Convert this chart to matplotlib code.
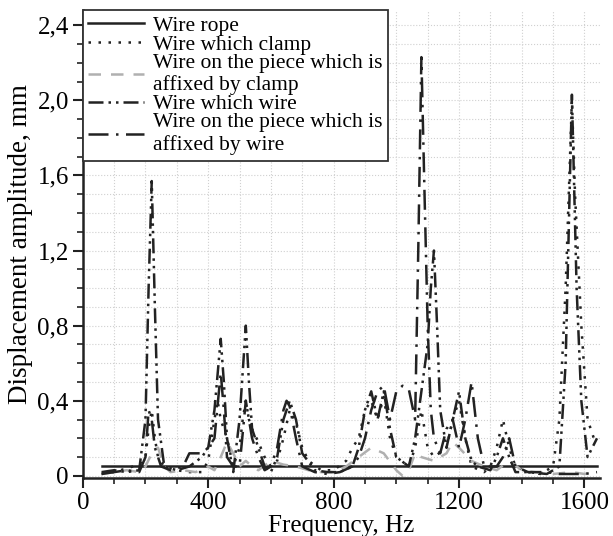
import matplotlib
matplotlib.use("Agg")
import matplotlib.pyplot as plt
from matplotlib.ticker import MultipleLocator, FuncFormatter

plt.rcParams['font.family'] = ['Liberation Serif', 'DejaVu Serif']

# Wire rope
rope_f = [60, 1640]
rope_v = [0.05, 0.05]

# Wire which clamp
wc_f = [60, 100, 140, 180, 200, 210, 220, 230, 240, 260, 300, 340, 380, 400, 420, 430, 440, 460, 480,
        500, 510, 520, 530, 540, 560, 580, 600, 620, 640, 660, 680, 700, 720, 760, 800, 840, 860, 880,
        900, 920, 940, 960, 980, 1000, 1040, 1060, 1080, 1100, 1120, 1160, 1180, 1200, 1220, 1240, 1280,
        1300, 1320, 1340, 1360, 1380, 1420, 1460, 1500, 1520, 1540, 1560, 1570, 1590, 1610, 1630, 1640]
wc_v = [0.01, 0.02, 0.04, 0.06, 0.1, 0.25, 0.35, 0.2, 0.1, 0.05, 0.03, 0.02, 0.02, 0.08, 0.3, 0.4, 0.3, 0.2, 0.05,
        0.15, 0.3, 0.4, 0.3, 0.25, 0.18, 0.1, 0.05, 0.08, 0.2, 0.35, 0.28, 0.15, 0.08, 0.03, 0.03, 0.08, 0.15, 0.2,
        0.35, 0.4, 0.3, 0.42, 0.2, 0.1, 0.05, 0.15, 0.35, 0.15, 0.1, 0.15, 0.3, 0.4, 0.2, 0.05, 0.02,
        0.05, 0.15, 0.3, 0.15, 0.05, 0.02, 0.01, 0.05, 0.3, 1.0, 2.0, 1.5, 0.8, 0.3, 0.2, 0.22]

# Wire on the piece which is affixed by clamp
ac_f = [60, 100, 140, 180, 200, 220, 240, 260, 280, 320, 360, 400, 420, 440, 460, 480, 500, 520, 540, 560,
        600, 640, 680, 720, 760, 800, 840, 880, 920, 960, 1000, 1020, 1040, 1060, 1080, 1120, 1160, 1180,
        1200, 1240, 1280, 1320, 1360, 1400, 1440, 1500, 1560, 1600, 1640]
ac_v = [0.01, 0.02, 0.03, 0.02, 0.05, 0.12, 0.15, 0.05, 0.02, 0.03, 0.02, 0.05, 0.03, 0.1, 0.18, 0.12, 0.05, 0.08, 0.05, 0.03,
        0.08, 0.06, 0.05, 0.03, 0.02, 0.02, 0.05, 0.1, 0.15, 0.12, 0.03, 0.0, 0.03, 0.12, 0.1, 0.08, 0.12, 0.18,
        0.15, 0.08, 0.05, 0.03, 0.08, 0.03, 0.02, 0.01, 0.02, 0.01, 0.02]

# Wire which wire
ww_f = [60, 100, 140, 180, 200, 210, 220, 230, 240, 260, 300, 340, 380, 400, 420, 440, 450, 460, 480, 500,
        520, 530, 540, 560, 580, 600, 620, 640, 660, 680, 700, 740, 780, 820, 860, 880, 900, 920, 940, 960,
        980, 1000, 1040, 1060, 1080, 1100, 1110, 1120, 1130, 1140, 1160, 1180, 1200, 1220, 1240, 1260, 1300,
        1320, 1340, 1360, 1380, 1420, 1480, 1520, 1540, 1560, 1575, 1590, 1610, 1640]
ww_v = [0.02, 0.03, 0.02, 0.03, 0.3, 1.0, 1.57, 0.9, 0.3, 0.05, 0.03, 0.05, 0.1, 0.15, 0.35, 0.73, 0.5, 0.2, 0.02, 0.3,
        0.8, 0.5, 0.25, 0.15, 0.05, 0.02, 0.1, 0.3, 0.4, 0.3, 0.12, 0.03, 0.02, 0.02, 0.05, 0.15, 0.35, 0.45, 0.3, 0.45,
        0.25, 0.1, 0.05, 0.2, 0.45, 0.7, 1.0, 1.2, 0.8, 0.35, 0.15, 0.3, 0.45, 0.2, 0.08, 0.05, 0.03,
        0.1, 0.2, 0.1, 0.02, 0.02, 0.01, 0.05, 0.6, 2.03, 1.0, 0.4, 0.1, 0.2]

# Wire on the piece which is affixed by wire
aw_f = [60, 100, 140, 180, 200, 210, 220, 230, 250, 280, 320, 340, 380, 400, 420, 440, 450, 460, 480, 500,
        520, 530, 540, 560, 580, 600, 620, 640, 650, 660, 680, 700, 740, 780, 820, 860, 880, 900, 920, 940,
        960, 980, 1000, 1020, 1040, 1060, 1070, 1080, 1090, 1100, 1110, 1120, 1140, 1160, 1180, 1200, 1220,
        1240, 1260, 1280, 1320, 1340, 1360, 1380, 1420, 1480, 1520, 1560, 1600, 1640]
aw_v = [0.01, 0.02, 0.03, 0.02, 0.1, 0.35, 0.3, 0.15, 0.05, 0.03, 0.05, 0.12, 0.12, 0.15, 0.2, 0.55, 0.35, 0.1, 0.05, 0.05,
        0.4, 0.3, 0.2, 0.1, 0.03, 0.05, 0.15, 0.35, 0.4, 0.37, 0.2, 0.05, 0.02, 0.01, 0.02, 0.05, 0.1, 0.2, 0.35, 0.45,
        0.48, 0.3, 0.45, 0.48, 0.46, 0.3, 1.2, 2.23, 1.5, 0.8, 0.35, 0.2, 0.12, 0.25, 0.3, 0.15, 0.3,
        0.5, 0.2, 0.05, 0.05, 0.1, 0.2, 0.05, 0.02, 0.02, 0.01, 0.01, 0.01, 0.02]

labels = ["Wire rope", "Wire which clamp", "Wire on the piece which is\naffixed by clamp",
          "Wire which wire", "Wire on the piece which is\naffixed by wire"]

fig = plt.figure(figsize=(6.13, 5.36), dpi=100)
ax = fig.add_axes([0.135, 0.108, 0.844, 0.873])

ax.plot(rope_f, rope_v, color='#222222', lw=1.8, ls='-', label=labels[0])
ax.plot(wc_f, wc_v, color='#222222', lw=1.8, ls=(0, (1, 3)), label=labels[1])
ax.plot(ac_f, ac_v, color='#b0b0b0', lw=1.8, ls=(0, (5, 4)), label=labels[2])
ax.plot(ww_f, ww_v, color='#222222', lw=1.8, ls=(0, (6, 2, 1, 2, 1, 2)), label=labels[3])
ax.plot(aw_f, aw_v, color='#222222', lw=1.8, ls=(0, (8, 3, 1, 3)), label=labels[4])

ax.set_xlim(0, 1650)
ax.set_ylim(-0.012, 2.48)
ax.xaxis.set_major_locator(MultipleLocator(400))
ax.xaxis.set_minor_locator(MultipleLocator(100))
ax.yaxis.set_major_locator(MultipleLocator(0.4))
ax.yaxis.set_minor_locator(MultipleLocator(0.1))
ax.yaxis.set_major_formatter(FuncFormatter(lambda v, p: "0" if abs(v) < 1e-9 else f"{v:.1f}".replace('.', ',')))

ax.grid(which='both', color='#d0d0d0', ls=':', lw=0.8)
ax.set_axisbelow(True)
for s in ['top', 'right']:
    ax.spines[s].set_visible(False)
for s in ['left', 'bottom']:
    ax.spines[s].set_linewidth(1.8)
    ax.spines[s].set_color('#222222')
ax.tick_params(which='major', length=7, width=1.5, labelsize=18, color='#222222', pad=3)
ax.tick_params(which='minor', length=4, width=1.2, color='#222222')

ax.set_xlabel("Frequency, Hz", fontsize=18, labelpad=1)
ax.set_ylabel("Displacement amplitude, mm", fontsize=19.5, labelpad=3)

leg = ax.legend(loc='upper left', bbox_to_anchor=(0.0, 1.0), borderaxespad=0, fontsize=15.5,
                frameon=True, fancybox=False, edgecolor='#333333', framealpha=1,
                handlelength=2.6, labelspacing=-0.05, handletextpad=0.4, borderpad=0.25)
leg.get_frame().set_linewidth(1.3)

fig.savefig("out.png", dpi=100)
